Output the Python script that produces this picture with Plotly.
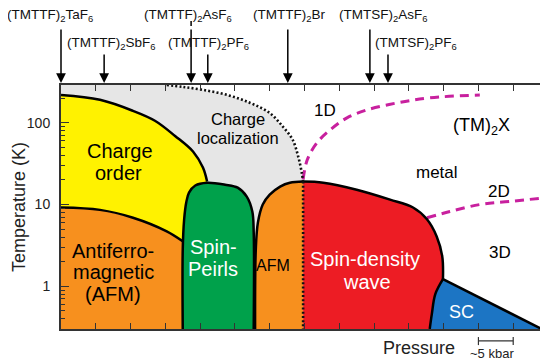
import math
import plotly.graph_objects as go

# ---------------- data (pressure in kbar, relative; temperature in K) ----------------
P_RANGE = [0, 70]
T_RANGE = [0.3, 290]
P_TICKS = [5, 10, 15, 20, 25, 30, 35, 40, 45, 50, 55, 60, 65]
T_TICKS = [1, 10, 100]
T_TICKTEXT = ["1", "10", "100"]
T_MINOR = [0.4, 0.5, 0.6, 0.7, 0.8, 0.9, 2, 3, 4, 5, 6, 7, 8, 9,
           20, 30, 40, 50, 60, 70, 80, 90, 200]

# charge-localization crossover (dotted)
loc_p = [15.2, 17.5, 20.4, 23.9, 27.2, 30.0, 31.9, 33.3, 34.1, 34.6, 34.8]
loc_t = [290, 275, 253, 219, 175, 132, 89.5, 62, 38.5, 24.6, 19.1]
loc_vert_p = [34.8, 34.8]
loc_vert_t = [19.1, 0.3]

# charge order upper boundary
co_p = [0, 5.6, 10.35, 13.5, 16.4, 19.0, 20.4, 21.0]
co_t = [219, 191, 140, 106, 69, 44.3, 28.3, 19.1]

# AFM / charge-order boundary
afm_co_p = [0, 5.6, 10.35, 15.2, 17.5]
afm_co_t = [9.2, 8.6, 6.9, 4.7, 3.55]

# spin-Peierls dome
sp_p = [17.5, 17.5, 17.7, 18.0, 18.4, 19.3, 21.0, 23.6, 25.4, 26.7, 27.5, 27.7, 27.7]
sp_t = [0.3, 2.83, 6.56, 10.6, 14.0, 17.1, 18.5, 17.5, 16.1, 12.5, 8.2, 4.56, 0.3]

# second AFM region
afm2_p = [27.9, 28.0, 28.3, 29.0, 30.0, 31.5, 32.9, 34.8]
afm2_t = [0.3, 2.83, 6.0, 10, 13.2, 16.6, 18.5, 19.1]

# spin-density wave boundary
sdw_p = [34.8, 37.7, 42.5, 47.3, 50.6, 52.6, 54.0, 54.8, 54.9]
sdw_t = [19.1, 18.5, 15.2, 11.5, 9.2, 6.6, 4.07, 2.32, 1.22]

# superconductivity
sc_curve_p = [53.0, 53.3, 53.8, 54.9]
sc_curve_t = [0.3, 0.456, 0.80, 1.22]
sc_end_p = 69.1
sc_end_t = 0.3

# dimensional crossovers (dashed)
dim1_p = [34.8, 35.4, 36.8, 38.7, 41.1, 44.0, 48.3, 53.0, 60.2]
dim1_t = [20.2, 35.3, 57, 82, 115, 144, 175, 202, 219]
dim2_p = [52.6, 55.9, 60.2, 64.5, 70]
dim2_t = [6.9, 8.2, 10, 10.9, 12.2]

# compounds along the pressure axis
compounds = ["(TMTTF)<sub>2</sub>TaF<sub>6</sub>", "(TMTTF)<sub>2</sub>SbF<sub>6</sub>",
             "(TMTTF)<sub>2</sub>AsF<sub>6</sub>", "(TMTTF)<sub>2</sub>PF<sub>6</sub>",
             "(TMTTF)<sub>2</sub>Br", "(TMTSF)<sub>2</sub>AsF<sub>6</sub>",
             "(TMTSF)<sub>2</sub>PF<sub>6</sub>"]
compound_p = [0, 6.2, 18.7, 21.1, 32.6, 44.4, 47.0]

# ---------------- style ----------------
FONT = "Liberation Sans, Arial, Helvetica, sans-serif"
GRAY = "#e6e6e6"
YELLOW = "#fff200"
ORANGE = "#f7901e"
GREEN = "#00a14b"
RED = "#ed1c24"
BLUE = "#1c75c4"
MAGENTA = "#c8209e"
FRAME = "#333333"

fig = go.Figure()


def fill(px, py, color):
    fig.add_trace(go.Scatter(x=px, y=py, mode="lines", fill="toself", fillcolor=color,
                             line=dict(width=0, color=color), hoverinfo="skip", showlegend=False))


def line(px, py, color="black", width=2.5, dash="solid", shape="spline"):
    fig.add_trace(go.Scatter(x=px, y=py, mode="lines",
                             line=dict(color=color, width=width, dash=dash, shape=shape, smoothing=1),
                             hoverinfo="skip", showlegend=False))


# fills
fill([P_RANGE[0]] + loc_p + loc_vert_p[1:] + [P_RANGE[0]],
     [T_RANGE[1]] + loc_t + loc_vert_t[1:] + [T_RANGE[0]], GRAY)
fill(co_p + afm_co_p[::-1], co_t + afm_co_t[::-1], YELLOW)
fill([P_RANGE[0]] + afm_co_p + [17.9], [T_RANGE[0]] + afm_co_t + [T_RANGE[0]], ORANGE)
fill(sp_p, sp_t, GREEN)
fill(afm2_p + [afm2_p[-1]], afm2_t + [T_RANGE[0]], ORANGE)
fill(sdw_p + sc_curve_p[::-1][1:] + [sdw_p[0]], sdw_t + sc_curve_t[::-1][1:] + [T_RANGE[0]], RED)
fill(sc_curve_p + [sc_end_p], sc_curve_t + [sc_end_t], BLUE)

# dashed crossovers
line(dim1_p, dim1_t, MAGENTA, 3, "9px,6px")
line(dim2_p, dim2_t, MAGENTA, 3, "9px,6px")

# solid phase boundaries
line(co_p, co_t)
line(afm_co_p, afm_co_t)
line(sp_p, sp_t)
line(afm2_p, afm2_t)
line(sdw_p, sdw_t)
line(sc_curve_p, sc_curve_t)
line([sc_curve_p[-1], sc_end_p], [sc_curve_t[-1], sc_end_t], shape="linear")

# dotted crossover
line(loc_p, loc_t, "#111111", 2.6, "2px,2.2px")
line(loc_vert_p, loc_vert_t, "#111111", 2.6, "2px,2.2px", shape="linear")

annotations = []


def label(text, p, t, size=20, color="black"):
    annotations.append(dict(text=text, x=p, y=math.log10(t), xref="x", yref="y", showarrow=False,
                            xanchor="center", yanchor="middle",
                            font=dict(family=FONT, size=size, color=color)))


label("Charge", 8.5, 45.6)
label("order", 8.3, 24.6)
label("Antiferro-", 7.5, 2.67)
label("magnetic", 7.5, 1.48)
label("(AFM)", 7.5, 0.80)
label("Charge", 25.4, 112, 16.5)
label("localization", 25.45, 65.6, 16.5)
label("Spin-", 21.85, 2.99, 20, "white")
label("Peirls", 21.85, 1.61, 20, "white")
label("AFM", 30.5, 1.80, 16)
label("Spin-density", 43.7, 2.13, 20, "white")
label("wave", 44.0, 1.12, 20, "white")
label("SC", 57.5, 0.48, 18, "white")
label("1D", 37.9, 140, 17)
label("(TM)<sub>2</sub>X", 60.5, 89.4, 18)
label("metal", 54.0, 24.6, 17)
label("2D", 63.0, 14.4, 17)
label("3D", 63.1, 2.60, 17)

# compound arrows and labels
rows = [1, 2, 1, 2, 1, 1, 2]
label_shift = [-11, 7, -3, 1, 1, 13.5, 28.5]
for name, p, r, sh in zip(compounds, compound_p, rows, label_shift):
    annotations.append(dict(text="", x=p, y=1.008, xref="x", yref="paper", showarrow=True,
                            ax=0, ay=-55 if r == 1 else -30, arrowhead=2, arrowsize=1.3,
                            arrowwidth=1.5, arrowcolor="black", standoff=0))
    annotations.append(dict(text=name, x=p, xshift=sh, y=1.283 if r == 1 else 1.172,
                            xref="x", yref="paper", showarrow=False,
                            xanchor="center", yanchor="middle",
                            font=dict(family=FONT, size=13.5, color="#111111")))

annotations.append(dict(text="Pressure", x=51.5, y=-0.078, xref="x", yref="paper", showarrow=False,
                        xanchor="center", yanchor="middle",
                        font=dict(family=FONT, size=18, color="#222222")))
annotations.append(dict(text="~5 kbar", x=62.0, y=-0.102, xref="x", yref="paper", showarrow=False,
                        xanchor="center", yanchor="middle",
                        font=dict(family=FONT, size=13, color="#222222")))
annotations.append(dict(text="Temperature (K)", x=-0.086, y=0.5, xref="paper", yref="paper",
                        textangle=-90, showarrow=False, xanchor="center", yanchor="middle",
                        font=dict(family=FONT, size=18, color="#222222")))

shapes = [
    dict(type="line", x0=60, x1=65, y0=-0.049, y1=-0.049, xref="x", yref="paper",
         line=dict(color="#333333", width=1.2)),
    dict(type="line", x0=60, x1=60, y0=-0.033, y1=-0.066, xref="x", yref="paper",
         line=dict(color="#333333", width=1.2)),
    dict(type="line", x0=65, x1=65, y0=-0.033, y1=-0.066, xref="x", yref="paper",
         line=dict(color="#333333", width=1.2)),
    dict(type="line", x0=compound_p[2], x1=compound_p[2], y0=1.262, y1=1.242, xref="x", yref="paper",
         line=dict(color="black", width=1.5)),
]

# page body has an 8 px default margin: compensate so the plot lands where the reference has it
fig.update_layout(
    template="none",
    width=548, height=363,
    margin=dict(l=53, r=8, t=77, b=42, autoexpand=False),
    paper_bgcolor="white", plot_bgcolor="white",
    annotations=annotations, shapes=shapes, showlegend=False,
    xaxis=dict(range=P_RANGE, tickvals=P_TICKS, showticklabels=False, ticks="inside",
               ticklen=6, tickwidth=1.2, tickcolor=FRAME, showline=True, linecolor=FRAME,
               linewidth=2, mirror="allticks", showgrid=False, zeroline=False, automargin=False),
    yaxis=dict(type="log", range=[math.log10(T_RANGE[0]), math.log10(T_RANGE[1])],
               tickvals=T_TICKS, ticktext=T_TICKTEXT, ticks="inside", ticklen=8, tickwidth=1.2,
               tickcolor=FRAME, showline=True, linecolor=FRAME, linewidth=2, mirror="allticks",
               showgrid=False, zeroline=False, ticklabelstandoff=6, automargin=False,
               tickfont=dict(family="Liberation Sans Narrow, " + FONT, size=14, color="#222222"),
               minor=dict(tickvals=T_MINOR, ticks="inside", ticklen=4, tickcolor=FRAME,
                          tickwidth=1, showgrid=False)),
)

fig.write_html("out.html")
